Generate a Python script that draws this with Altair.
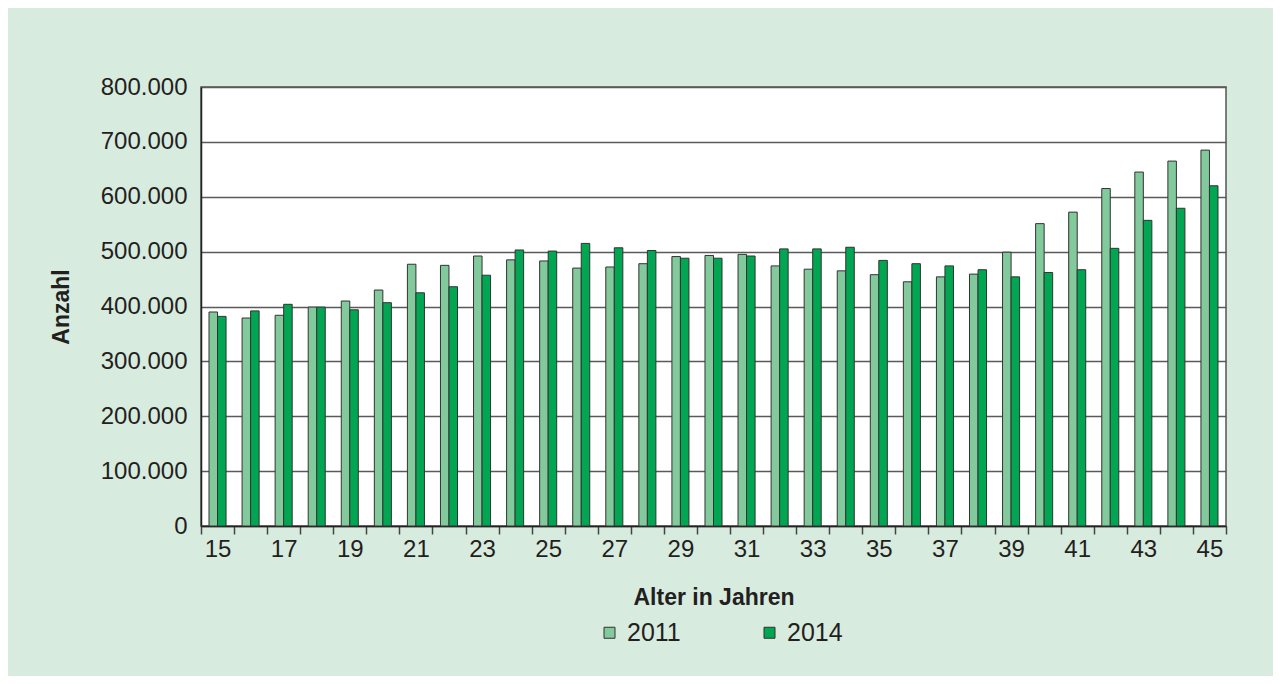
import altair as alt
import pandas as pd

ages = list(range(15, 46))
years = ["2011", "2014"]
values_2011 = [390, 379, 384, 399, 410, 430, 477, 475, 492, 485, 483, 470, 472, 478, 491, 493,
               495, 474, 468, 465, 458, 445, 454, 459, 499, 551, 572, 615, 645, 665, 685]
values_2014 = [382, 392, 404, 399, 394, 407, 425, 436, 457, 503, 501, 515, 507, 502, 488, 488,
               492, 505, 505, 508, 484, 478, 474, 467, 454, 462, 467, 506, 557, 579, 620]

rows = []
for a, v1, v2 in zip(ages, values_2011, values_2014):
    rows.append({"age": a, "year": "2011", "value": v1 * 1000})
    rows.append({"age": a, "year": "2014", "value": v2 * 1000})
df = pd.DataFrame(rows)

FONT = "Liberation Sans"
TXT = "#231f20"

chart = alt.Chart(df).mark_bar(stroke="#333333", strokeWidth=1).encode(
    x=alt.X(
        "age:O",
        title="Alter in Jahren",
        scale=alt.Scale(paddingInner=0, paddingOuter=0),
        axis=alt.Axis(
            labelAngle=0,
            labelExpr="datum.value % 2 == 1 ? datum.label : ''",
            tickBand="extent",
            tickSize=8,
            tickColor="#444444",
            tickWidth=1.5,
            domainColor="#222222",
            domainWidth=1.5,
            labelFontSize=24,
            labelFont=FONT,
            labelColor=TXT,
            labelPadding=3,
            titleFontSize=23,
            titleFont=FONT,
            titleFontWeight="bold",
            titleColor=TXT,
            titlePadding=25,
            grid=False,
        ),
    ),
    xOffset=alt.XOffset("year:N", scale=alt.Scale(paddingInner=0, paddingOuter=0.94)),
    y=alt.Y(
        "value:Q",
        title="Anzahl",
        scale=alt.Scale(domain=[0, 800000]),
        axis=alt.Axis(
            values=[0, 100000, 200000, 300000, 400000, 500000, 600000, 700000, 800000],
            labelExpr="replace(format(datum.value, ','), ',', '.')",
            ticks=False,
            labelPadding=14,
            labelFontSize=24,
            labelFont=FONT,
            labelColor=TXT,
            domainColor="#222222",
            domainWidth=1.5,
            gridColor="#5a5a5a",
            gridWidth=1.5,
            titleFontSize=23,
            titleFont=FONT,
            titleFontWeight="bold",
            titleColor=TXT,
            titlePadding=27,
        ),
    ),
    color=alt.Color(
        "year:N",
        scale=alt.Scale(domain=years, range=["#82c99c", "#00a651"]),
        legend=alt.Legend(
            title=None,
            orient="none",
            legendX=396,
            legendY=533,
            direction="horizontal",
            columns=2,
            columnPadding=76,
            padding=0,
            symbolType="square",
            symbolSize=121,
            symbolStrokeColor="#333333",
            symbolStrokeWidth=1,
            labelFontSize=25,
            labelFont=FONT,
            labelColor=TXT,
            labelOffset=5,
        ),
    ),
).properties(
    width=1025,
    height=439,
    background="#d8ebdf",
    padding={"left": 193, "top": 79, "right": 47, "bottom": 150},
    autosize="none",
).configure_view(
    fill="white",
    stroke="#555555",
    strokeWidth=1.5,
)

chart.save("out.html", embed_options={"renderer": "svg", "actions": False})
